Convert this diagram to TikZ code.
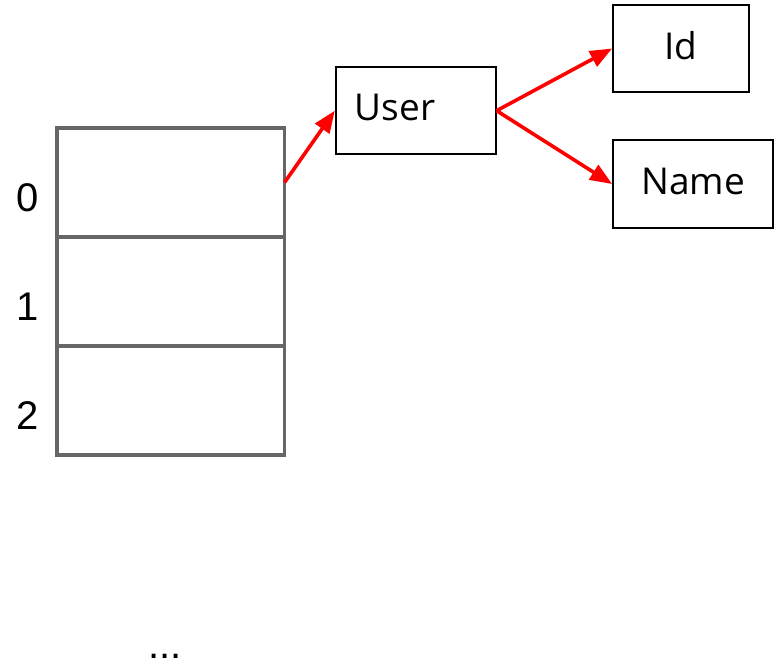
\documentclass[tikz,border=0pt]{standalone}
\usepackage{fontspec}
\setmainfont{Open Sans}
\newfontfamily\indexfont{Liberation Sans}
\usetikzlibrary{arrows.meta}
\definecolor{slotgray}{HTML}{666666}
\definecolor{ptrred}{HTML}{FF0000}

\begin{document}
\begin{tikzpicture}[x=1pt,y=-1pt,
  slot/.style={draw=slotgray,line width=3.4pt,minimum width=227.5pt,minimum height=109pt,outer sep=0pt,inner sep=0pt},
  idx/.style={font=\indexfont\fontsize{40}{48}\selectfont,inner sep=0pt},
  field/.style={draw,line width=1.8pt,minimum height=87pt,text depth=6pt,font=\fontsize{37}{44}\selectfont},
  ptr/.style={draw=ptrred,line width=3.6pt,-{Triangle[length=22pt,width=17pt]}}]
  \useasboundingbox (0,0) rectangle (778,664);

  % array slots with their indices
  \foreach \i in {0,1,2} {
    \node[slot] (slot\i) at (170.75,182.5+109*\i) {};
    \node[idx] (idx\i) at (28,197.5+109*\i) {\i};
  }
  \node[idx,anchor=base] (more) at (165,658) {...};

  % the object and its fields
  \node[field,minimum width=160pt,text width=122pt,inner xsep=19pt,align=left] (user) at (415.7,110.7) {User};
  \node[field,minimum width=136pt] (id) at (681,48.5) {Id};
  \node[field,minimum width=160pt,minimum height=88pt] (name) at (693,184) {Name};

  \draw[ptr] (slot0.east) -- (user.west);
  \draw[ptr] (user.east) -- (id.west);
  \draw[ptr] (user.east) -- (name.west);
\end{tikzpicture}
\end{document}
